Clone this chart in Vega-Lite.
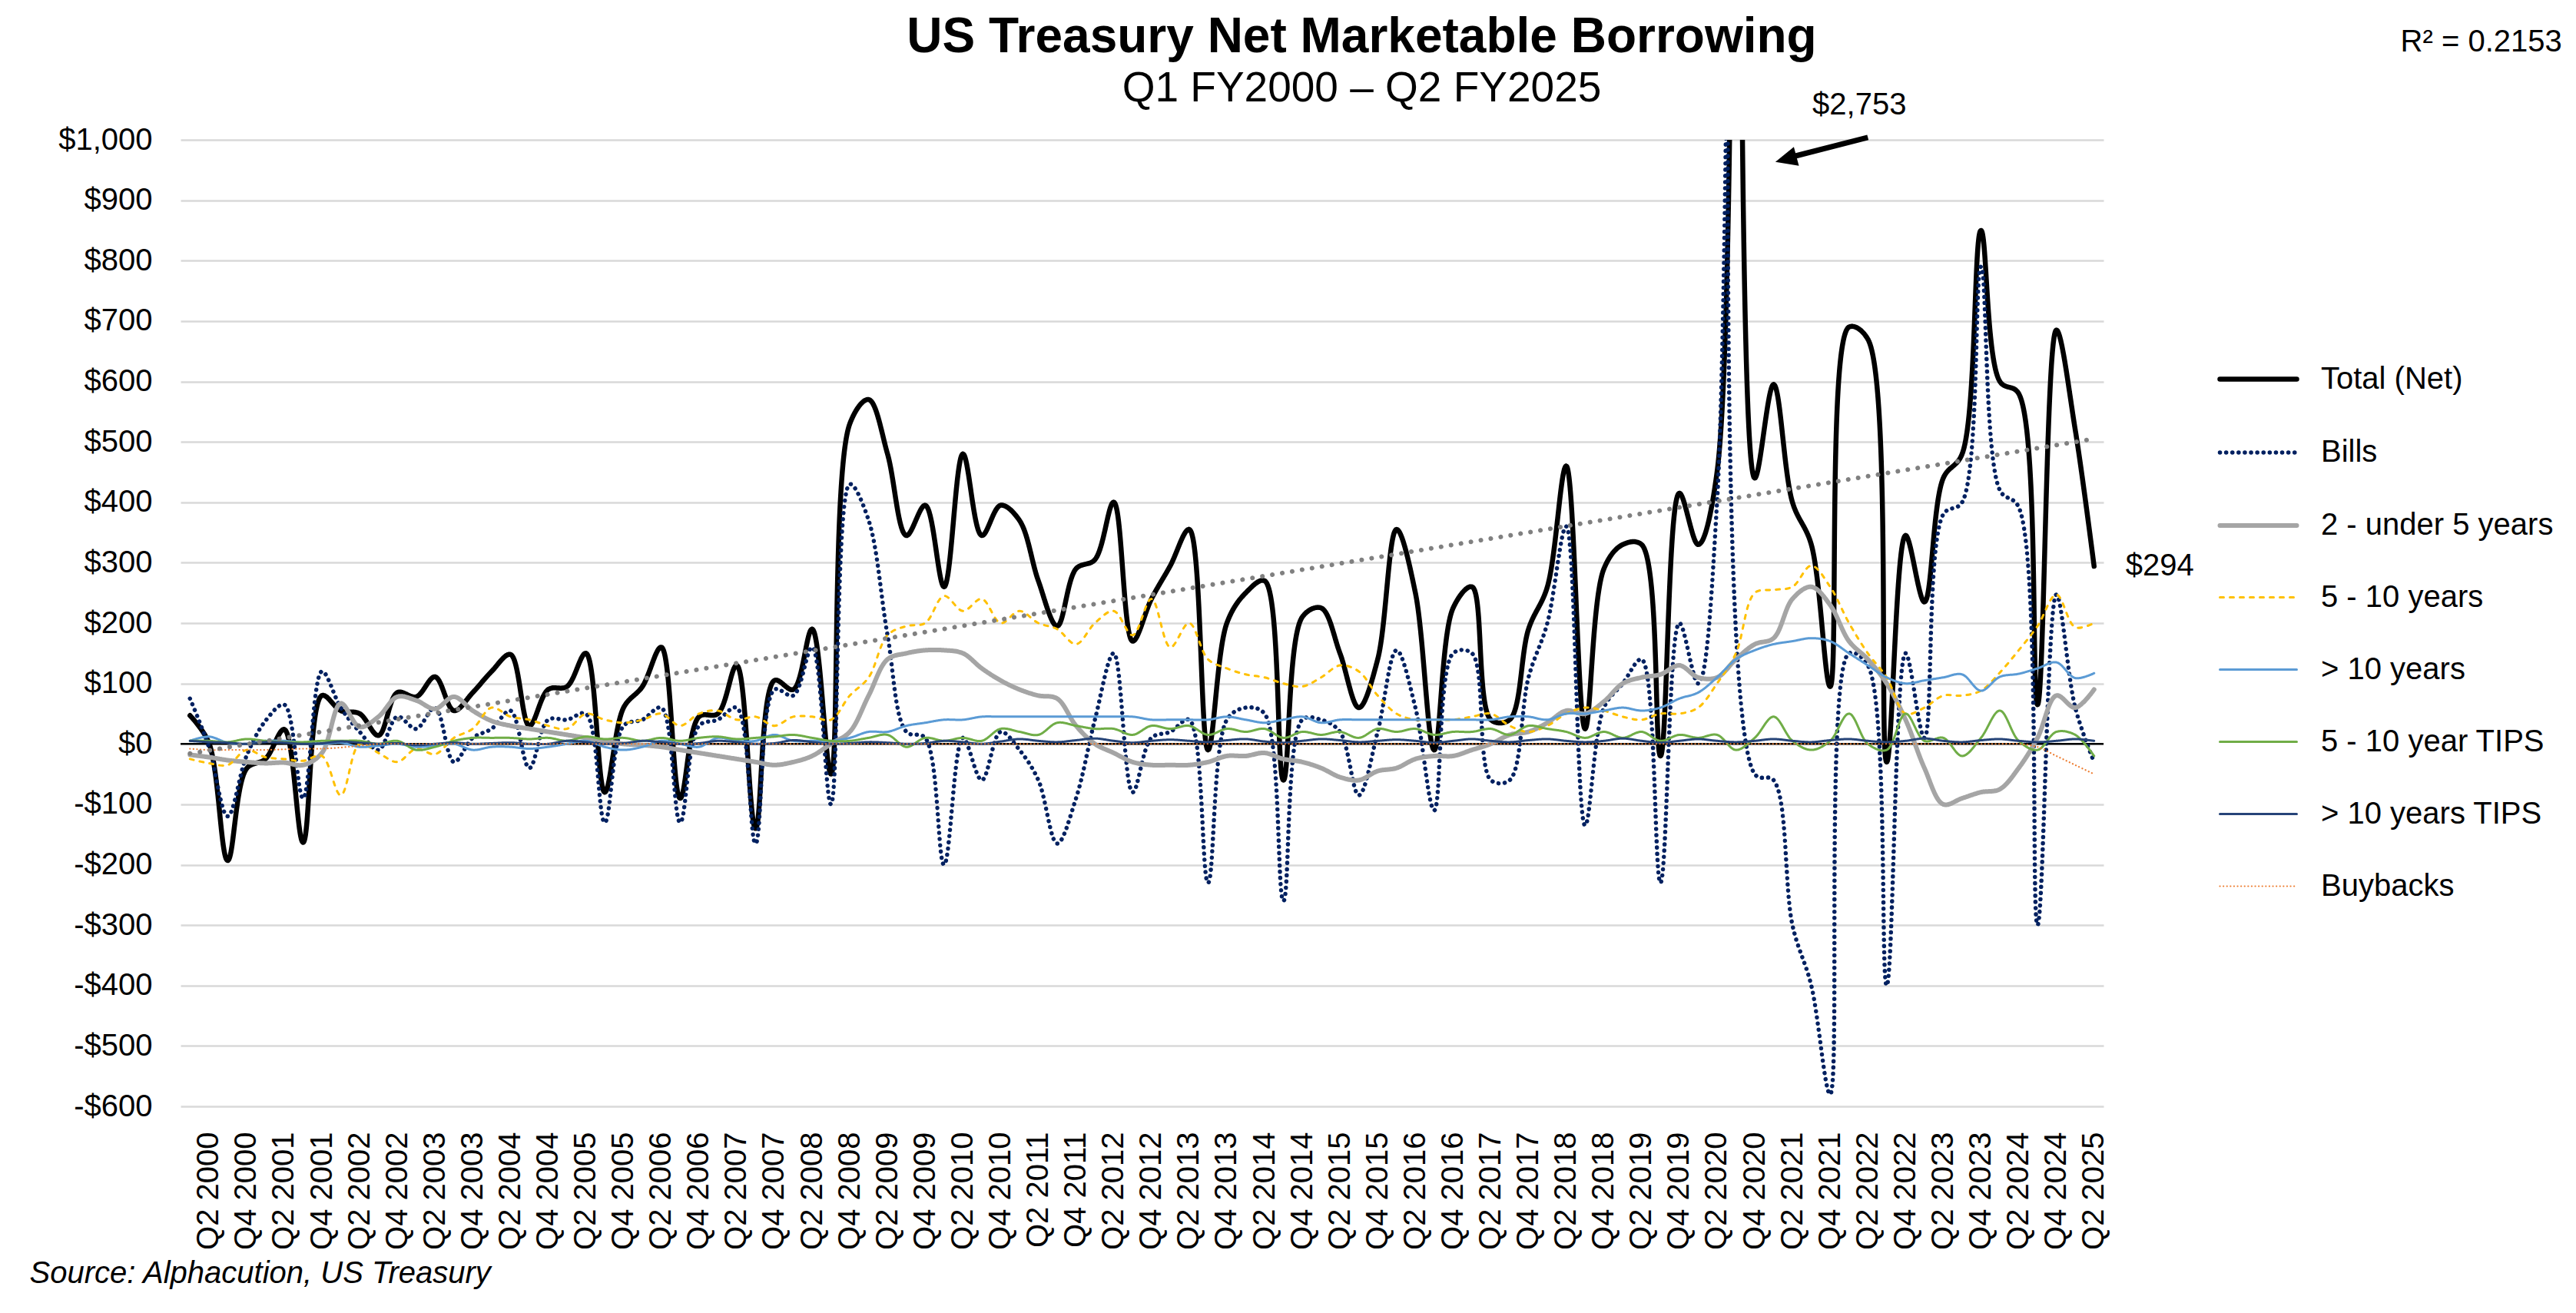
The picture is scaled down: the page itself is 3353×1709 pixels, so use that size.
{
  "$schema": "https://vega.github.io/schema/vega-lite/v6.json",
  "autosize": {"type": "none"},
  "width": 2503,
  "height": 1258,
  "padding": {"left": 235, "top": 182, "right": 615, "bottom": 269},
  "background": "#ffffff",
  "config": {
    "view": {"stroke": null},
    "font": "Liberation Sans",
    "axis": {"labelFont": "Liberation Sans", "labelFontSize": 40, "labelColor": "#000000", "titleFont": "Liberation Sans", "titleColor": "#000000"},
    "legend": {"labelFont": "Liberation Sans"}
  },
  "title": {
    "text": "US Treasury Net Marketable Borrowing",
    "subtitle": "Q1 FY2000 \u2013 Q2 FY2025",
    "anchor": "middle",
    "frame": "group",
    "dx": 286,
    "offset": -108,
    "font": "Liberation Sans",
    "fontSize": 64,
    "fontWeight": "bold",
    "color": "#000000",
    "subtitleFont": "Liberation Sans",
    "subtitleFontSize": 55,
    "subtitleColor": "#000000",
    "subtitlePadding": 8
  },
  "datasets": {
    "borrowing": [
      {"q": "Q1 2000", "total": 47, "bills": 75, "y2_5": -18, "y5_10": -25, "y10": 5, "tips5_10": 5, "tips10": 5, "buy": -8},
      {"q": "Q2 2000", "total": 2, "bills": -5, "y2_5": -22, "y5_10": -32, "y10": 12, "tips5_10": 5, "tips10": 3, "buy": -10},
      {"q": "Q3 2000", "total": -193, "bills": -120, "y2_5": -27, "y5_10": -35, "y10": 2, "tips5_10": 3, "tips10": 2, "buy": -10},
      {"q": "Q4 2000", "total": -41, "bills": -20, "y2_5": -30, "y5_10": -10, "y10": 0, "tips5_10": 8, "tips10": 0, "buy": -10},
      {"q": "Q1 2001", "total": -25, "bills": 38, "y2_5": -32, "y5_10": -22, "y10": 5, "tips5_10": 5, "tips10": 3, "buy": -10},
      {"q": "Q2 2001", "total": 24, "bills": 65, "y2_5": -31, "y5_10": -25, "y10": 5, "tips5_10": 3, "tips10": 2, "buy": -9},
      {"q": "Q3 2001", "total": -163, "bills": -90, "y2_5": -35, "y5_10": -28, "y10": 2, "tips5_10": 3, "tips10": 0, "buy": -8},
      {"q": "Q4 2001", "total": 80, "bills": 120, "y2_5": -15, "y5_10": -20, "y10": 0, "tips5_10": 5, "tips10": 1, "buy": -8},
      {"q": "Q1 2002", "total": 55, "bills": 60, "y2_5": 67, "y5_10": -85, "y10": 2, "tips5_10": 5, "tips10": 4, "buy": -6},
      {"q": "Q2 2002", "total": 50, "bills": 20, "y2_5": 28, "y5_10": 0, "y10": -5, "tips5_10": 5, "tips10": 2, "buy": -3},
      {"q": "Q3 2002", "total": 14, "bills": -10, "y2_5": 45, "y5_10": -15, "y10": -3, "tips5_10": 0, "tips10": 0, "buy": 0},
      {"q": "Q4 2002", "total": 85, "bills": 45, "y2_5": 78, "y5_10": -30, "y10": 0, "tips5_10": 5, "tips10": 1, "buy": 0},
      {"q": "Q1 2003", "total": 78, "bills": 25, "y2_5": 72, "y5_10": -8, "y10": -5, "tips5_10": -10, "tips10": -2, "buy": 0},
      {"q": "Q2 2003", "total": 111, "bills": 60, "y2_5": 58, "y5_10": -17, "y10": -3, "tips5_10": -5, "tips10": 0, "buy": 0},
      {"q": "Q3 2003", "total": 55, "bills": -30, "y2_5": 78, "y5_10": 10, "y10": 0, "tips5_10": 5, "tips10": 2, "buy": 0},
      {"q": "Q4 2003", "total": 85, "bills": 10, "y2_5": 55, "y5_10": 25, "y10": -10, "tips5_10": 10, "tips10": 0, "buy": 0},
      {"q": "Q1 2004", "total": 120, "bills": 25, "y2_5": 38, "y5_10": 60, "y10": -5, "tips5_10": 10, "tips10": 1, "buy": 0},
      {"q": "Q2 2004", "total": 148, "bills": 55, "y2_5": 30, "y5_10": 45, "y10": -5, "tips5_10": 10, "tips10": 2, "buy": 0},
      {"q": "Q3 2004", "total": 30, "bills": -40, "y2_5": 25, "y5_10": 40, "y10": -8, "tips5_10": 8, "tips10": 0, "buy": 0},
      {"q": "Q4 2004", "total": 90, "bills": 40, "y2_5": 20, "y5_10": 30, "y10": -5, "tips5_10": 10, "tips10": 0, "buy": 0},
      {"q": "Q1 2005", "total": 95, "bills": 40, "y2_5": 15, "y5_10": 25, "y10": 0, "tips5_10": 5, "tips10": 5, "buy": 0},
      {"q": "Q2 2005", "total": 150, "bills": 50, "y2_5": 10, "y5_10": 50, "y10": 5, "tips5_10": 12, "tips10": 3, "buy": 0},
      {"q": "Q3 2005", "total": -80, "bills": -130, "y2_5": 5, "y5_10": 40, "y10": -5, "tips5_10": 8, "tips10": 0, "buy": 0},
      {"q": "Q4 2005", "total": 60, "bills": 30, "y2_5": 0, "y5_10": 35, "y10": -10, "tips5_10": 10, "tips10": 1, "buy": 0},
      {"q": "Q1 2006", "total": 95, "bills": 40, "y2_5": -2, "y5_10": 40, "y10": -5, "tips5_10": 5, "tips10": 5, "buy": 0},
      {"q": "Q2 2006", "total": 160, "bills": 60, "y2_5": -5, "y5_10": 50, "y10": 5, "tips5_10": 10, "tips10": 3, "buy": 0},
      {"q": "Q3 2006", "total": -90, "bills": -130, "y2_5": -10, "y5_10": 30, "y10": 0, "tips5_10": 5, "tips10": 0, "buy": 0},
      {"q": "Q4 2006", "total": 45, "bills": 30, "y2_5": -15, "y5_10": 50, "y10": -5, "tips5_10": 10, "tips10": 1, "buy": 0},
      {"q": "Q1 2007", "total": 50, "bills": 40, "y2_5": -20, "y5_10": 55, "y10": 10, "tips5_10": 12, "tips10": 5, "buy": 0},
      {"q": "Q2 2007", "total": 130, "bills": 60, "y2_5": -25, "y5_10": 40, "y10": 5, "tips5_10": 8, "tips10": 3, "buy": 0},
      {"q": "Q3 2007", "total": -140, "bills": -165, "y2_5": -30, "y5_10": 45, "y10": 5, "tips5_10": 10, "tips10": 0, "buy": 0},
      {"q": "Q4 2007", "total": 105, "bills": 90, "y2_5": -35, "y5_10": 30, "y10": 15, "tips5_10": 12, "tips10": 1, "buy": 0},
      {"q": "Q1 2008", "total": 90, "bills": 80, "y2_5": -30, "y5_10": 45, "y10": 5, "tips5_10": 15, "tips10": 6, "buy": 0},
      {"q": "Q2 2008", "total": 190, "bills": 160, "y2_5": -20, "y5_10": 45, "y10": 5, "tips5_10": 10, "tips10": 3, "buy": 0},
      {"q": "Q3 2008", "total": -50, "bills": -100, "y2_5": 0, "y5_10": 40, "y10": 5, "tips5_10": 5, "tips10": 0, "buy": 0},
      {"q": "Q4 2008", "total": 530, "bills": 430, "y2_5": 20, "y5_10": 80, "y10": 10, "tips5_10": 5, "tips10": 1, "buy": 0},
      {"q": "Q1 2009", "total": 570, "bills": 370, "y2_5": 80, "y5_10": 110, "y10": 20, "tips5_10": 10, "tips10": 3, "buy": 0},
      {"q": "Q2 2009", "total": 480, "bills": 180, "y2_5": 140, "y5_10": 180, "y10": 20, "tips5_10": 15, "tips10": 2, "buy": 0},
      {"q": "Q3 2009", "total": 345, "bills": 20, "y2_5": 150, "y5_10": 195, "y10": 30, "tips5_10": -5, "tips10": 0, "buy": 0},
      {"q": "Q4 2009", "total": 395, "bills": 10, "y2_5": 155, "y5_10": 200, "y10": 35, "tips5_10": 10, "tips10": 1, "buy": 0},
      {"q": "Q1 2010", "total": 260, "bills": -200, "y2_5": 155, "y5_10": 245, "y10": 40, "tips5_10": 5, "tips10": 5, "buy": 0},
      {"q": "Q2 2010", "total": 480, "bills": 10, "y2_5": 150, "y5_10": 220, "y10": 40, "tips5_10": 10, "tips10": 3, "buy": 0},
      {"q": "Q3 2010", "total": 345, "bills": -60, "y2_5": 125, "y5_10": 240, "y10": 45, "tips5_10": 5, "tips10": 0, "buy": 0},
      {"q": "Q4 2010", "total": 395, "bills": 20, "y2_5": 105, "y5_10": 200, "y10": 45, "tips5_10": 25, "tips10": 4, "buy": 0},
      {"q": "Q1 2011", "total": 370, "bills": -10, "y2_5": 90, "y5_10": 220, "y10": 45, "tips5_10": 20, "tips10": 8, "buy": 0},
      {"q": "Q2 2011", "total": 270, "bills": -60, "y2_5": 80, "y5_10": 200, "y10": 45, "tips5_10": 15, "tips10": 5, "buy": 0},
      {"q": "Q3 2011", "total": 195, "bills": -165, "y2_5": 75, "y5_10": 190, "y10": 45, "tips5_10": 35, "tips10": 3, "buy": 0},
      {"q": "Q4 2011", "total": 290, "bills": -90, "y2_5": 30, "y5_10": 165, "y10": 45, "tips5_10": 30, "tips10": 6, "buy": 0},
      {"q": "Q1 2012", "total": 305, "bills": 40, "y2_5": 0, "y5_10": 200, "y10": 45, "tips5_10": 25, "tips10": 9, "buy": 0},
      {"q": "Q2 2012", "total": 400, "bills": 150, "y2_5": -15, "y5_10": 220, "y10": 45, "tips5_10": 25, "tips10": 5, "buy": 0},
      {"q": "Q3 2012", "total": 170, "bills": -80, "y2_5": -30, "y5_10": 180, "y10": 45, "tips5_10": 15, "tips10": 2, "buy": 0},
      {"q": "Q4 2012", "total": 240, "bills": 10, "y2_5": -35, "y5_10": 240, "y10": 40, "tips5_10": 30, "tips10": 5, "buy": 0},
      {"q": "Q1 2013", "total": 295, "bills": 20, "y2_5": -35, "y5_10": 160, "y10": 40, "tips5_10": 25, "tips10": 7, "buy": 0},
      {"q": "Q2 2013", "total": 355, "bills": 40, "y2_5": -35, "y5_10": 200, "y10": 40, "tips5_10": 30, "tips10": 5, "buy": 0},
      {"q": "Q3 2013", "total": -10, "bills": -230, "y2_5": -30, "y5_10": 140, "y10": 40, "tips5_10": 15, "tips10": 3, "buy": 0},
      {"q": "Q4 2013", "total": 200, "bills": 40, "y2_5": -20, "y5_10": 125, "y10": 45, "tips5_10": 25, "tips10": 6, "buy": 0},
      {"q": "Q1 2014", "total": 250, "bills": 60, "y2_5": -20, "y5_10": 115, "y10": 40, "tips5_10": 20, "tips10": 8, "buy": 0},
      {"q": "Q2 2014", "total": 270, "bills": 50, "y2_5": -15, "y5_10": 110, "y10": 35, "tips5_10": 25, "tips10": 4, "buy": 0},
      {"q": "Q3 2014", "total": -60, "bills": -260, "y2_5": -25, "y5_10": 100, "y10": 40, "tips5_10": 10, "tips10": 2, "buy": 0},
      {"q": "Q4 2014", "total": 210, "bills": 40, "y2_5": -30, "y5_10": 95, "y10": 45, "tips5_10": 20, "tips10": 5, "buy": 0},
      {"q": "Q1 2015", "total": 225, "bills": 40, "y2_5": -40, "y5_10": 110, "y10": 35, "tips5_10": 15, "tips10": 8, "buy": 0},
      {"q": "Q2 2015", "total": 150, "bills": 20, "y2_5": -55, "y5_10": 130, "y10": 40, "tips5_10": 20, "tips10": 6, "buy": 0},
      {"q": "Q3 2015", "total": 60, "bills": -85, "y2_5": -60, "y5_10": 120, "y10": 40, "tips5_10": 10, "tips10": 3, "buy": 0},
      {"q": "Q4 2015", "total": 140, "bills": 20, "y2_5": -45, "y5_10": 80, "y10": 40, "tips5_10": 25, "tips10": 5, "buy": 0},
      {"q": "Q1 2016", "total": 355, "bills": 155, "y2_5": -40, "y5_10": 50, "y10": 40, "tips5_10": 20, "tips10": 7, "buy": 0},
      {"q": "Q2 2016", "total": 250, "bills": 60, "y2_5": -25, "y5_10": 40, "y10": 40, "tips5_10": 25, "tips10": 5, "buy": 0},
      {"q": "Q3 2016", "total": -10, "bills": -110, "y2_5": -20, "y5_10": 40, "y10": 40, "tips5_10": 15, "tips10": 2, "buy": 0},
      {"q": "Q4 2016", "total": 225, "bills": 150, "y2_5": -20, "y5_10": 40, "y10": 40, "tips5_10": 20, "tips10": 5, "buy": 0},
      {"q": "Q1 2017", "total": 260, "bills": 150, "y2_5": -10, "y5_10": 45, "y10": 40, "tips5_10": 20, "tips10": 8, "buy": 0},
      {"q": "Q2 2017", "total": 40, "bills": -60, "y2_5": 0, "y5_10": 50, "y10": 40, "tips5_10": 25, "tips10": 5, "buy": 0},
      {"q": "Q3 2017", "total": 40, "bills": -60, "y2_5": 15, "y5_10": 30, "y10": 45, "tips5_10": 15, "tips10": 3, "buy": 0},
      {"q": "Q4 2017", "total": 190, "bills": 110, "y2_5": 20, "y5_10": 20, "y10": 45, "tips5_10": 30, "tips10": 6, "buy": 0},
      {"q": "Q1 2018", "total": 260, "bills": 200, "y2_5": 35, "y5_10": 30, "y10": 40, "tips5_10": 25, "tips10": 8, "buy": 0},
      {"q": "Q2 2018", "total": 460, "bills": 360, "y2_5": 55, "y5_10": 50, "y10": 50, "tips5_10": 20, "tips10": 5, "buy": 0},
      {"q": "Q3 2018", "total": 25, "bills": -135, "y2_5": 50, "y5_10": 60, "y10": 50, "tips5_10": 10, "tips10": 3, "buy": 0},
      {"q": "Q4 2018", "total": 290, "bills": 60, "y2_5": 70, "y5_10": 55, "y10": 55, "tips5_10": 20, "tips10": 5, "buy": 0},
      {"q": "Q1 2019", "total": 330, "bills": 100, "y2_5": 100, "y5_10": 45, "y10": 60, "tips5_10": 10, "tips10": 9, "buy": 0},
      {"q": "Q2 2019", "total": 330, "bills": 140, "y2_5": 110, "y5_10": 40, "y10": 55, "tips5_10": 20, "tips10": 5, "buy": 0},
      {"q": "Q3 2019", "total": -20, "bills": -230, "y2_5": 115, "y5_10": 50, "y10": 60, "tips5_10": 5, "tips10": 2, "buy": 0},
      {"q": "Q4 2019", "total": 415, "bills": 200, "y2_5": 130, "y5_10": 50, "y10": 75, "tips5_10": 15, "tips10": 5, "buy": 0},
      {"q": "Q1 2020", "total": 330, "bills": 100, "y2_5": 110, "y5_10": 60, "y10": 85, "tips5_10": 10, "tips10": 8, "buy": 0},
      {"q": "Q2 2020", "total": 450, "bills": 400, "y2_5": 110, "y5_10": 100, "y10": 110, "tips5_10": 15, "tips10": 5, "buy": 0},
      {"q": "Q3 2020", "total": 2753, "bills": 2600, "y2_5": 140, "y5_10": 150, "y10": 140, "tips5_10": -10, "tips10": 3, "buy": 0},
      {"q": "Q4 2020", "total": 440, "bills": -50, "y2_5": 165, "y5_10": 250, "y10": 155, "tips5_10": 10, "tips10": 5, "buy": 0},
      {"q": "Q1 2021", "total": 595, "bills": -60, "y2_5": 175, "y5_10": 255, "y10": 165, "tips5_10": 45, "tips10": 8, "buy": 0},
      {"q": "Q2 2021", "total": 400, "bills": -300, "y2_5": 240, "y5_10": 260, "y10": 170, "tips5_10": 5, "tips10": 5, "buy": 0},
      {"q": "Q3 2021", "total": 330, "bills": -400, "y2_5": 260, "y5_10": 295, "y10": 175, "tips5_10": -10, "tips10": 3, "buy": 0},
      {"q": "Q4 2021", "total": 95, "bills": -580, "y2_5": 230, "y5_10": 260, "y10": 170, "tips5_10": 5, "tips10": 6, "buy": 0},
      {"q": "Q1 2022", "total": 690, "bills": 150, "y2_5": 170, "y5_10": 200, "y10": 150, "tips5_10": 50, "tips10": 8, "buy": 0},
      {"q": "Q2 2022", "total": 670, "bills": 130, "y2_5": 140, "y5_10": 150, "y10": 130, "tips5_10": 0, "tips10": 5, "buy": 0},
      {"q": "Q3 2022", "total": -30, "bills": -400, "y2_5": 100, "y5_10": 110, "y10": 110, "tips5_10": -10, "tips10": 3, "buy": 0},
      {"q": "Q4 2022", "total": 345, "bills": 150, "y2_5": 40, "y5_10": 50, "y10": 100, "tips5_10": 50, "tips10": 5, "buy": 0},
      {"q": "Q1 2023", "total": 235, "bills": 10, "y2_5": -40, "y5_10": 60, "y10": 105, "tips5_10": 5, "tips10": 9, "buy": 0},
      {"q": "Q2 2023", "total": 440, "bills": 380, "y2_5": -100, "y5_10": 80, "y10": 110, "tips5_10": 10, "tips10": 5, "buy": 0},
      {"q": "Q3 2023", "total": 480, "bills": 400, "y2_5": -90, "y5_10": 80, "y10": 115, "tips5_10": -20, "tips10": 3, "buy": 0},
      {"q": "Q4 2023", "total": 850, "bills": 790, "y2_5": -80, "y5_10": 88, "y10": 88, "tips5_10": 10, "tips10": 6, "buy": 0},
      {"q": "Q1 2024", "total": 600, "bills": 420, "y2_5": -75, "y5_10": 118, "y10": 111, "tips5_10": 55, "tips10": 8, "buy": 0},
      {"q": "Q2 2024", "total": 580, "bills": 392, "y2_5": -40, "y5_10": 155, "y10": 116, "tips5_10": 5, "tips10": 5, "buy": 0},
      {"q": "Q3 2024", "total": 65, "bills": -300, "y2_5": 10, "y5_10": 195, "y10": 125, "tips5_10": -10, "tips10": 3, "buy": -5},
      {"q": "Q4 2024", "total": 685, "bills": 247, "y2_5": 80, "y5_10": 247, "y10": 135, "tips5_10": 20, "tips10": 5, "buy": -20},
      {"q": "Q1 2025", "total": 520, "bills": 60, "y2_5": 60, "y5_10": 193, "y10": 109, "tips5_10": 15, "tips10": 8, "buy": -35},
      {"q": "Q2 2025", "total": 294, "bills": -30, "y2_5": 90, "y5_10": 200, "y10": 117, "tips5_10": -20, "tips10": 5, "buy": -50}
    ],
    "trend": [
      {"q": "Q1 2000", "v": -16},
      {"q": "Q2 2025", "v": 505}
    ],
    "zero": [{"v": 0}],
    "notes": [
      {"q": "Q2 2022", "v": 1057, "t": "$2,753", "kind": "peak"},
      {"q": "Q2 2025", "v": 294, "t": "$294", "kind": "last"},
      {"q": "Q2 2025", "v": 1161, "t": "R\u00b2 = 0.2153", "kind": "r2"}
    ],
    "arrow": [
      {"q": "Q2 2022", "v": 1004},
      {"q": "Q2 2021", "v": 972}
    ],
    "arrowhead": [{"q": "Q1 2021", "v": 968}]
  },
  "layer": [
    {
      "data": {"name": "zero"},
      "mark": {"type": "rule", "color": "#000000", "strokeWidth": 2.5},
      "encoding": {"y": {"field": "v", "type": "quantitative"}}
    },
    {
      "data": {"name": "borrowing"},
      "transform": [{"fold": ["total", "bills", "y2_5", "y5_10", "y10", "tips5_10", "tips10", "buy"], "as": ["series", "value"]}],
      "mark": {"type": "line", "interpolate": "catmull-rom", "strokeCap": "round", "strokeJoin": "round", "clip": true},
      "encoding": {
        "x": {
          "field": "q", "type": "ordinal", "sort": null,
          "scale": {"type": "point", "padding": 0.5},
          "axis": {
            "labelAngle": -90,
            "labelExpr": "indexof(datum.label, 'Q2') == 0 || indexof(datum.label, 'Q4') == 0 ? datum.label : ''",
            "ticks": false, "tickSize": 0, "domain": false, "grid": false,
            "labelPadding": 33, "labelOverlap": false,
            "title": "Source: Alphacution, US Treasury",
            "titleFontSize": 40, "titleFontStyle": "italic", "titleFontWeight": "normal",
            "titleAngle": 0, "titleAlign": "left", "titleBaseline": "middle",
            "titleX": -197, "titleY": 217
          }
        },
        "y": {
          "field": "value", "type": "quantitative",
          "scale": {"domain": [-600, 1000], "nice": false, "zero": false},
          "axis": {
            "values": [-600, -500, -400, -300, -200, -100, 0, 100, 200, 300, 400, 500, 600, 700, 800, 900, 1000],
            "labelExpr": "(datum.value < 0 ? '-' : '') + '$' + format(abs(datum.value), ',')",
            "grid": true, "gridColor": "#D9D9D9", "gridWidth": 2.7,
            "domain": false, "ticks": false, "tickSize": 0, "labelPadding": 37, "title": null
          }
        },
        "color": {
          "field": "series", "type": "nominal",
          "scale": {
            "domain": ["total", "bills", "y2_5", "y5_10", "y10", "tips5_10", "tips10", "buy"],
            "range": ["#000000", "#002060", "#A5A5A5", "#FFC000", "#5B9BD5", "#70AD47", "#264478", "#ED7D31"]
          },
          "legend": {
            "orient": "none", "legendX": 2651, "legendY": 258, "title": null,
            "symbolType": "stroke", "symbolSize": 10000,
            "labelFontSize": 40, "labelColor": "#000000", "labelOffset": 28, "labelLimit": 0,
            "rowPadding": 22,
            "labelExpr": "datum.label == 'total' ? 'Total (Net)' : datum.label == 'bills' ? 'Bills' : datum.label == 'y2_5' ? '2 - under 5 years' : datum.label == 'y5_10' ? '5 - 10 years' : datum.label == 'y10' ? '> 10 years' : datum.label == 'tips5_10' ? '5 - 10 year TIPS' : datum.label == 'tips10' ? '> 10 years TIPS' : 'Buybacks'",
            "encoding": {"symbols": {"strokeCap": {"value": "round"}}}
          }
        },
        "strokeDash": {
          "field": "series", "type": "nominal",
          "scale": {
            "type": "ordinal",
            "domain": ["total", "bills", "y2_5", "y5_10", "y10", "tips5_10", "tips10", "buy"],
            "range": [[1, 0], [0.1, 8], [1, 0], [5, 8], [1, 0], [1, 0], [1, 0], [0.1, 4.5]]
          }
        },
        "strokeWidth": {
          "field": "series", "type": "nominal",
          "scale": {
            "type": "ordinal",
            "domain": ["total", "bills", "y2_5", "y5_10", "y10", "tips5_10", "tips10", "buy"],
            "range": [6.5, 5.5, 6, 3, 3, 3, 3, 2.2]
          }
        }
      }
    },
    {
      "data": {"name": "trend"},
      "mark": {"type": "line", "color": "#808080", "strokeWidth": 6, "strokeDash": [0.1, 13], "strokeCap": "round"},
      "encoding": {
        "x": {"field": "q", "type": "ordinal", "sort": null},
        "y": {"field": "v", "type": "quantitative"}
      }
    },
    {
      "data": {"name": "arrow"},
      "mark": {"type": "line", "color": "#000000", "strokeWidth": 7, "clip": false},
      "encoding": {
        "x": {"field": "q", "type": "ordinal", "sort": null},
        "y": {"field": "v", "type": "quantitative"}
      }
    },
    {
      "data": {"name": "arrowhead"},
      "mark": {"type": "point", "shape": "M -1 0 L 1 -0.9 L 1 0.9 Z", "size": 800, "angle": 345, "filled": true, "color": "#000000", "opacity": 1, "xOffset": 16, "clip": false},
      "encoding": {
        "x": {"field": "q", "type": "ordinal", "sort": null},
        "y": {"field": "v", "type": "quantitative"}
      }
    },
    {
      "data": {"name": "notes"},
      "transform": [{"filter": "datum.kind == 'peak'"}],
      "mark": {"type": "text", "fontSize": 40, "font": "Liberation Sans", "color": "#000000", "align": "center", "baseline": "middle", "dx": -11},
      "encoding": {
        "x": {"field": "q", "type": "ordinal", "sort": null},
        "y": {"field": "v", "type": "quantitative"},
        "text": {"field": "t"}
      }
    },
    {
      "data": {"name": "notes"},
      "transform": [{"filter": "datum.kind == 'last'"}],
      "mark": {"type": "text", "fontSize": 40, "font": "Liberation Sans", "color": "#000000", "align": "left", "baseline": "middle", "dx": 41},
      "encoding": {
        "x": {"field": "q", "type": "ordinal", "sort": null},
        "y": {"field": "v", "type": "quantitative"},
        "text": {"field": "t"}
      }
    },
    {
      "data": {"name": "notes"},
      "transform": [{"filter": "datum.kind == 'r2'"}],
      "mark": {"type": "text", "fontSize": 40, "font": "Liberation Sans", "color": "#000000", "align": "right", "baseline": "middle", "dx": 609},
      "encoding": {
        "x": {"field": "q", "type": "ordinal", "sort": null},
        "y": {"field": "v", "type": "quantitative"},
        "text": {"field": "t"}
      }
    }
  ]
}
